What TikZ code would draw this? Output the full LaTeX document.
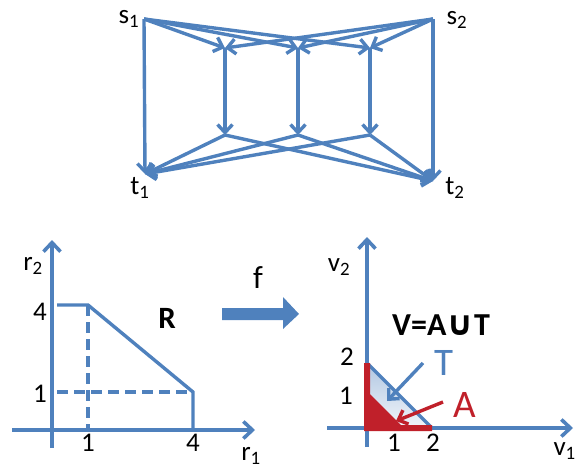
\documentclass[tikz,border=0pt]{standalone}
\usepackage{fontspec}
\setmainfont{Carlito}
\newfontfamily\symfont{DejaVu Sans}
\usetikzlibrary{arrows.meta}
\definecolor{lineblue}{HTML}{4F81BD}
\definecolor{areared}{HTML}{C0202A}
\tikzset{
  edge/.style={lineblue, line width=3.4pt, -{Straight Barb[length=8pt,width=15pt]}},
  axis/.style={lineblue, line width=3.6pt, -{Straight Barb[length=9pt,width=17pt]}},
  bound/.style={lineblue, line width=3.4pt},
  lbl/.style={font=\fontsize{27}{29}\selectfont, inner sep=0pt},
}
\begin{document}
\begin{tikzpicture}[x=1pt, y=-1pt]
	\useasboundingbox (0,0) rectangle (576,469);

	% network
	\coordinate (s1) at (144,19);
	\coordinate (s2) at (433,19);
	\coordinate (t1) at (145,174);
	\coordinate (t2) at (433,181);
	\coordinate (m1) at (225,48);
	\coordinate (m2) at (298,48);
	\coordinate (m3) at (370,48);
	\coordinate (n1) at (225,135);
	\coordinate (n2) at (298,135);
	\coordinate (n3) at (370,135);

	\node[lbl] (ls1) at (129,19) {s\textsubscript{1}};
	\node[lbl] (ls2) at (457,20) {s\textsubscript{2}};
	\node[lbl] (lt1) at (140,188) {t\textsubscript{1}};
	\node[lbl] (lt2) at (455,188) {t\textsubscript{2}};

	\draw[edge] (s1) -- (t1);
	\draw[edge] (s2) -- (t2);
	\foreach \k in {1,2,3} {
		\draw[edge] (s1) -- (m\k);
		\draw[edge] (s2) -- (m\k);
		\draw[edge] (m\k) -- (n\k);
		\draw[edge] (n\k) -- (t1);
		\draw[edge] (n\k) -- (t2);
	}

	% rate region R
	\coordinate (ytip1) at (52,240);
	\coordinate (ybot1) at (52,448);
	\coordinate (xtip1) at (255,430);
	\coordinate (xbeg1) at (12,430);
	\draw[axis] (ybot1) -- (ytip1);
	\draw[axis] (xbeg1) -- (xtip1);
	\coordinate (ra) at (57,305);
	\coordinate (rb) at (88,305);
	\coordinate (rc) at (193,392);
	\coordinate (rd) at (193,430);
	\coordinate (re) at (88,430);
	\coordinate (rf) at (57,392);
	\draw[bound] (ra) -- (rb) -- (rc) -- (rd);
	\draw[bound, dash pattern=on 11pt off 6pt] (rb) -- (re);
	\draw[bound, dash pattern=on 11pt off 6pt] (rf) -- (rc);

	\node[lbl] (r2) at (33,266) {r\textsubscript{2}};
	\node[lbl] (r1) at (251,456) {r\textsubscript{1}};
	\node[lbl] (y4) at (40,312) {4};
	\node[lbl] (y1) at (40,394) {1};
	\node[lbl] (x1) at (88,443) {1};
	\node[lbl] (x4) at (193,443) {4};
	\node[font=\fontsize{31}{33}\selectfont\bfseries, inner sep=0pt] (rr) at (167,318) {R};

	% map f
	\fill[lineblue] (222,308) -- (283,308) -- (283,297) -- (299,314) -- (283,329) -- (283,320) -- (222,320) -- cycle;
	\node[font=\fontsize{32}{34}\selectfont, inner sep=0pt] (ff) at (258,278) {f};

	% region V
	\coordinate (ybot2) at (367,447);
	\coordinate (ytip2) at (367,237);
	\coordinate (xbeg2) at (327,428);
	\coordinate (xtip2) at (573,428);
	\draw[axis] (ybot2) -- (ytip2);
	\draw[axis] (xbeg2) -- (xtip2);

	\coordinate (ta) at (367,363);
	\coordinate (tb) at (432,428);
	\coordinate (tc) at (367,428);
	\shade[top color=lineblue!45, bottom color=lineblue!8] (ta) -- (tb) -- (tc) -- cycle;
	\draw[bound] (ta) -- (tb);
	\fill[areared] (364,363) -- (370,363) -- (370,394) -- (401,425) -- (432,425) -- (432,431) -- (364,431) -- cycle;

	\node[lbl] (v2) at (339,267) {v\textsubscript{2}};
	\node[lbl, anchor=east] (v1) at (576,451) {v\textsubscript{1}};
	\node[lbl] (w2) at (347,357) {2};
	\node[lbl] (w1) at (346,396) {1};
	\node[lbl] (u1) at (394,443) {1};
	\node[lbl] (u2) at (433,443) {2};
	\node[font=\fontsize{32}{34}\selectfont\bfseries, inner sep=0pt] (vv) at (441,325) {V=A{\symfont\fontsize{34}{36}\selectfont ∪}T};
	\node[font=\fontsize{39}{41}\selectfont, text=lineblue, inner sep=0pt] (tt) at (444,363) {T};
	\node[font=\fontsize{39}{41}\selectfont, text=areared, inner sep=0pt] (aa) at (465,405) {A};

	\coordinate (tp) at (387,401);
	\coordinate (ap) at (396,421);
	\draw[edge] (423,363) -- (tp);
	\draw[edge, areared] (443,402) -- (ap);
\end{tikzpicture}
\end{document}
